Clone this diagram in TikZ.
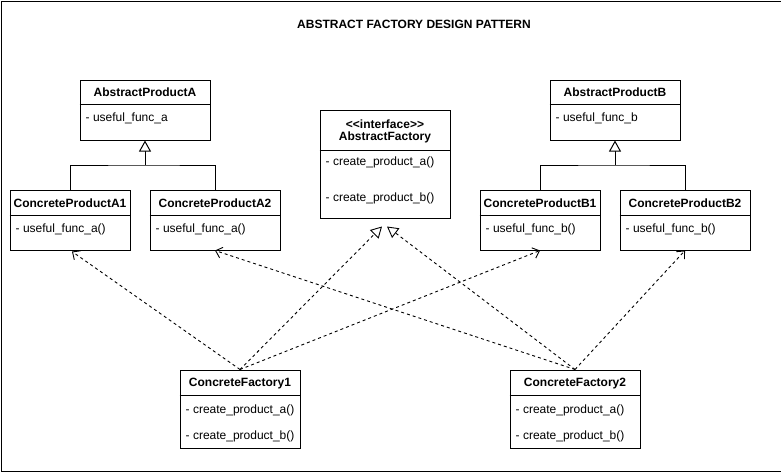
\documentclass[tikz,border=0pt]{standalone}
\usepackage{fontspec}
\setmainfont{Liberation Sans}
\usetikzlibrary{arrows.meta,calc}
\tikzset{
  umlbox/.style={draw=black, line width=1pt, fill=white, inner sep=0pt},
  ctitle/.style={font=\fontsize{12}{14}\selectfont\bfseries, inner sep=0pt, anchor=center},
  attr/.style={font=\fontsize{12}{14}\selectfont, inner sep=0pt, anchor=west},
  hdr/.style={line width=1pt},
  gen/.style={line width=1pt, -{Triangle[open,length=11pt,width=12pt,fill=white]}},
  dep/.style={line width=0.9pt, dash pattern=on 3pt off 3pt, -{Straight Barb[length=6pt,width=11pt]}},
  impl/.style={line width=0.9pt, dash pattern=on 3pt off 3pt, -{Triangle[open,length=11pt,width=12pt,fill=white]}}
}
\begin{document}
\begin{tikzpicture}[x=1pt,y=-1pt]
\useasboundingbox (0,0) rectangle (781,471);
\node[draw=black, line width=1pt, minimum width=780pt, minimum height=470pt, inner sep=0pt, anchor=north west] (frame) at (0.5,0.5) {};

\node[ctitle] (title) at (414,24) {ABSTRACT FACTORY DESIGN PATTERN};

% AbstractProductA
\node[umlbox, minimum width=130pt, minimum height=60pt] (apa) at (145,110) {};
\draw[hdr] ($(apa.north west)+(0,25)$) -- ($(apa.north east)+(0,25)$);
\node[ctitle] (apat) at ($(apa.north)+(0,13)$) {AbstractProductA};
\node[attr] (apaa) at ($(apa.north west)+(6,39)$) {- useful\_func\_a};

% AbstractProductB
\node[umlbox, minimum width=130pt, minimum height=60pt] (apb) at (615,110) {};
\draw[hdr] ($(apb.north west)+(0,25)$) -- ($(apb.north east)+(0,25)$);
\node[ctitle] (apbt) at ($(apb.north)+(0,13)$) {AbstractProductB};
\node[attr] (apba) at ($(apb.north west)+(6,39)$) {- useful\_func\_b};

% ConcreteProductA1
\node[umlbox, minimum width=120pt, minimum height=60pt] (cpa1) at (70,220) {};
\draw[hdr] ($(cpa1.north west)+(0,26)$) -- ($(cpa1.north east)+(0,26)$);
\node[ctitle] (cpa1t) at ($(cpa1.north)+(0,14)$) {ConcreteProductA1};
\node[attr] (cpa1a) at ($(cpa1.north west)+(6,40)$) {- useful\_func\_a()};

% ConcreteProductA2
\node[umlbox, minimum width=130pt, minimum height=60pt] (cpa2) at (215,220) {};
\draw[hdr] ($(cpa2.north west)+(0,26)$) -- ($(cpa2.north east)+(0,26)$);
\node[ctitle] (cpa2t) at ($(cpa2.north)+(0,14)$) {ConcreteProductA2};
\node[attr] (cpa2a) at ($(cpa2.north west)+(6,40)$) {- useful\_func\_a()};

% ConcreteProductB1
\node[umlbox, minimum width=120pt, minimum height=60pt] (cpb1) at (540,220) {};
\draw[hdr] ($(cpb1.north west)+(0,26)$) -- ($(cpb1.north east)+(0,26)$);
\node[ctitle] (cpb1t) at ($(cpb1.north)+(0,14)$) {ConcreteProductB1};
\node[attr] (cpb1a) at ($(cpb1.north west)+(6,40)$) {- useful\_func\_b()};

% ConcreteProductB2
\node[umlbox, minimum width=130pt, minimum height=60pt] (cpb2) at (685,220) {};
\draw[hdr] ($(cpb2.north west)+(0,26)$) -- ($(cpb2.north east)+(0,26)$);
\node[ctitle] (cpb2t) at ($(cpb2.north)+(0,14)$) {ConcreteProductB2};
\node[attr] (cpb2a) at ($(cpb2.north west)+(6,40)$) {- useful\_func\_b()};

% AbstractFactory
\node[umlbox, minimum width=130pt, minimum height=108pt] (af) at (385,164) {};
\draw[hdr] ($(af.north west)+(0,41)$) -- ($(af.north east)+(0,41)$);
\node[ctitle] (afs) at ($(af.north)+(0,14.5)$) {<{}<interface>{}>};
\node[ctitle] (aft) at ($(af.north)+(0,28)$) {AbstractFactory};
\node[attr] (afa) at ($(af.north west)+(6,53)$) {- create\_product\_a()};
\node[attr] (afb) at ($(af.north west)+(6,88.5)$) {- create\_product\_b()};

% ConcreteFactory1
\node[umlbox, minimum width=120pt, minimum height=78pt] (cf1) at (240,409) {};
\draw[hdr] ($(cf1.north west)+(0,26)$) -- ($(cf1.north east)+(0,26)$);
\node[ctitle] (cf1t) at ($(cf1.north)+(0,14)$) {ConcreteFactory1};
\node[attr] (cf1a) at ($(cf1.north west)+(6,40.5)$) {- create\_product\_a()};
\node[attr] (cf1b) at ($(cf1.north west)+(6,67)$) {- create\_product\_b()};

% ConcreteFactory2
\node[umlbox, minimum width=130pt, minimum height=78pt] (cf2) at (575,409) {};
\draw[hdr] ($(cf2.north west)+(0,26)$) -- ($(cf2.north east)+(0,26)$);
\node[ctitle] (cf2t) at ($(cf2.north)+(0,14)$) {ConcreteFactory2};
\node[attr] (cf2a) at ($(cf2.north west)+(6,40.5)$) {- create\_product\_a()};
\node[attr] (cf2b) at ($(cf2.north west)+(6,67)$) {- create\_product\_b()};

% generalizations
\coordinate (ja) at (145,165);
\coordinate (jb) at (615,165);
\draw[line width=1pt] (cpa1.north) |- (ja) -| (cpa2.north);
\draw[line width=1pt] (cpb1.north) |- (jb) -| (cpb2.north);
\draw[gen] (ja) -- (apa.south);
\draw[gen] (jb) -- (apb.south);

% realizations
\coordinate (afl) at ($(af.south)+(-3,8)$);
\coordinate (afr) at ($(af.south)+(2,8)$);
\draw[impl] (cf1.north) -- (afl);
\draw[impl] (cf2.north) -- (afr);

% dependencies
\draw[dep] (cf1.north) -- ($(cpa1.south)+(2,1)$);
\draw[dep] (cf1.north) -- (cpb1.south);
\draw[dep] (cf2.north) -- (cpa2.south);
\draw[dep] (cf2.north) -- (cpb2.south);
\end{tikzpicture}
\end{document}
